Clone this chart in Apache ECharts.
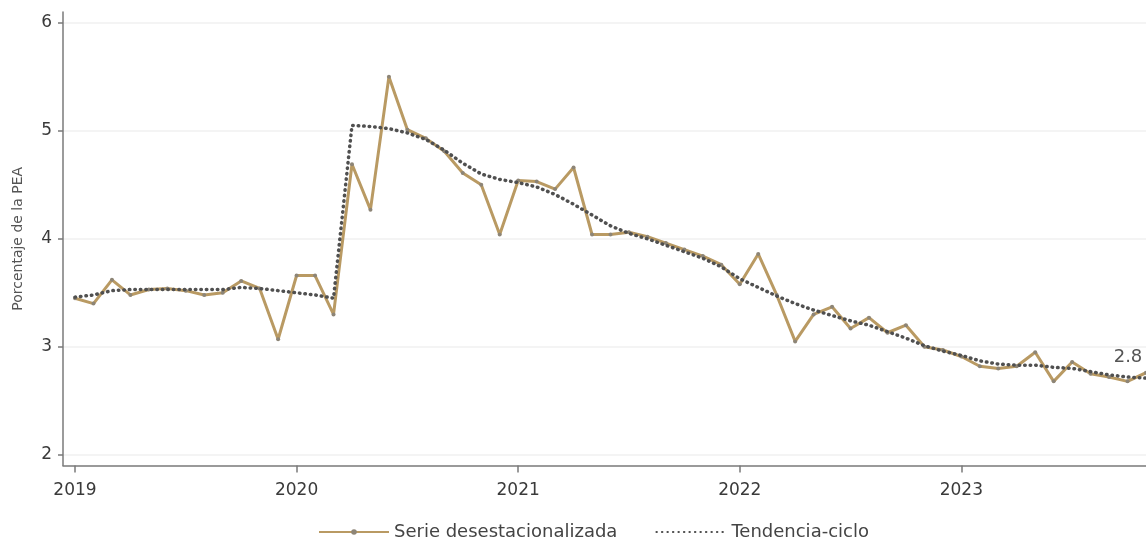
<!DOCTYPE html>
<html>
<head>
<meta charset="utf-8">
<script src="https://cdn.jsdelivr.net/npm/echarts@6/dist/echarts.min.js"></script>
<style>html,body{margin:0;padding:0;background:#fff}#c{width:1146px;height:540px}</style>
</head>
<body>
<div id="c"></div>
<script>
// Monthly, Jan 2019 .. Nov 2023 (index 0 = Jan 2019)
const startYear = 2019;
const serieDesest = [
  3.45, 3.40, 3.62, 3.48, 3.53, 3.54, 3.52, 3.48, 3.50, 3.61, 3.54, 3.07,
  3.66, 3.66, 3.30, 4.69, 4.27, 5.50, 5.01, 4.93, 4.81, 4.61, 4.50, 4.04,
  4.54, 4.53, 4.46, 4.66, 4.04, 4.04, 4.06, 4.02, 3.96, 3.90, 3.84, 3.76,
  3.58, 3.86, 3.48, 3.05, 3.30, 3.37, 3.17, 3.27, 3.13, 3.20, 3.00, 2.97,
  2.91, 2.82, 2.80, 2.82, 2.95, 2.68, 2.86, 2.75, 2.72, 2.68, 2.76
];
const tendenciaCiclo = [
  3.46, 3.48, 3.52, 3.53, 3.53, 3.53, 3.53, 3.53, 3.53, 3.55, 3.54, 3.52,
  3.50, 3.48, 3.45, 5.05, 5.04, 5.02, 4.98, 4.92, 4.82, 4.70, 4.60, 4.55,
  4.52, 4.48, 4.41, 4.32, 4.22, 4.12, 4.05, 4.00, 3.94, 3.88, 3.82, 3.74,
  3.63, 3.55, 3.47, 3.40, 3.34, 3.29, 3.24, 3.20, 3.14, 3.08, 3.01, 2.96,
  2.92, 2.87, 2.84, 2.83, 2.83, 2.81, 2.80, 2.77, 2.74, 2.72, 2.71
];
const xTickValues = [0, 12, 24, 36, 48];
const yTickValues = [2, 3, 4, 5, 6];
const seriesNames = ['Serie desestacionalizada', 'Tendencia-ciclo'];
const yAxisName = 'Porcentaje de la PEA';
const endLabel = '2.8';

const FONT = '"DejaVu Sans", sans-serif';
const gold = '#b99a63';
const dark = '#505050';

const s1 = serieDesest.map((v, i) => [i, v]);
const s2 = tendenciaCiclo.map((v, i) => [i, v]);
s1[s1.length - 1] = {
  value: s1[s1.length - 1],
  label: {
    show: true, position: 'top', offset: [-18, 1],
    formatter: endLabel, color: '#555', fontSize: 18, fontFamily: FONT
  }
};

const chart = echarts.init(document.getElementById('c'), null, {renderer: 'canvas'});
chart.setOption({
  animation: false,
  backgroundColor: '#fff',
  grid: {left: 63, right: -2, top: 12, bottom: 74.4, containLabel: false},
  legend: {
    top: 518, left: 313,
    itemGap: 38,
    itemWidth: 70, itemHeight: 7,
    textStyle: {fontFamily: FONT, fontSize: 18, color: '#444'},
    data: [
      {name: seriesNames[0]},
      {name: seriesNames[1], itemStyle: {opacity: 0}}
    ]
  },
  xAxis: {
    type: 'value', min: -0.65, max: 58,
    axisLine: {show: true, onZero: false, lineStyle: {color: '#7a7a7a', width: 1.5}},
    axisTick: {show: true, length: 7, lineStyle: {color: '#7a7a7a', width: 1.5}, customValues: xTickValues},
    axisLabel: {
      customValues: xTickValues,
      formatter: v => String(startYear + Math.round(v / 12)),
      fontFamily: FONT, fontSize: 17, color: '#3a3a3a', margin: 16
    },
    splitLine: {show: false}
  },
  yAxis: {
    type: 'value', min: 1.9, max: 6.1,
    name: yAxisName, nameLocation: 'middle', nameGap: 38,
    nameTextStyle: {fontFamily: FONT, fontSize: 14, color: '#555'},
    axisLine: {show: true, onZero: false, lineStyle: {color: '#7a7a7a', width: 1.5}},
    axisTick: {show: true, length: 5, lineStyle: {color: '#7a7a7a', width: 1.5}, customValues: yTickValues},
    axisLabel: {
      customValues: yTickValues,
      fontFamily: FONT, fontSize: 17, color: '#3a3a3a', margin: 11
    },
    splitLine: {show: true, lineStyle: {color: '#f1f1f1', width: 1.5}}
  },
  series: [
    {
      name: seriesNames[0], type: 'line', data: s1,
      symbol: 'circle', symbolSize: 4, showSymbol: true,
      lineStyle: {color: gold, width: 3},
      itemStyle: {color: '#8d8577', borderWidth: 0},
      z: 2
    },
    {
      name: seriesNames[1], type: 'line', data: s2,
      symbol: 'none',
      lineStyle: {color: dark, width: 3.5, type: [0.5, 5], cap: 'round'},
      itemStyle: {color: dark},
      z: 3
    }
  ]
});
</script>
</body>
</html>
